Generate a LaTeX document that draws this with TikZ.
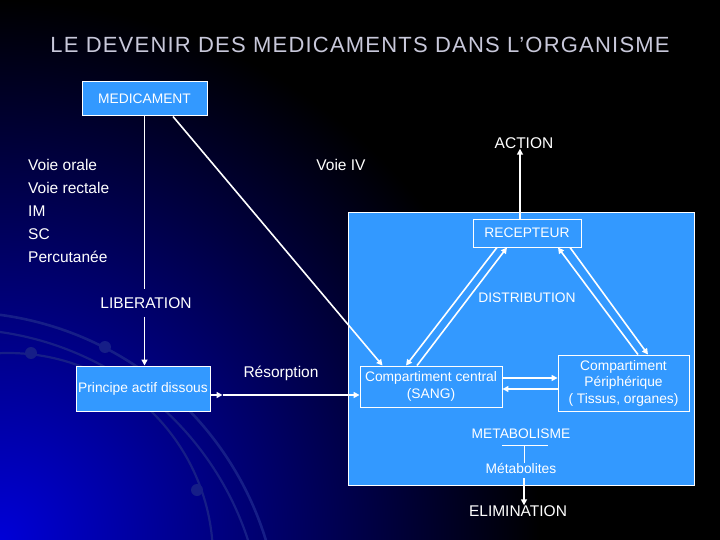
\documentclass[tikz,border=0pt]{standalone}
\usepackage{fontspec}
\setmainfont{Liberation Sans}
\usetikzlibrary{arrows.meta}
\definecolor{boxblue}{RGB}{51,153,255}
\definecolor{arcblue}{RGB}{22,30,135}
\definecolor{titlegray}{RGB}{200,200,218}
\begin{document}
\begin{tikzpicture}[x=1pt,y=-1pt,
  every node/.style={text=white,inner sep=0pt},
  bluebox/.style={draw=white,line width=1pt,fill=boxblue,align=center},
  outbox/.style={draw=white,line width=0.9pt,align=center},
  conn/.style={draw=white,line width=1.6pt},
  arr/.style={conn,-{Triangle[width=6pt,length=6pt]}},
  small/.style={font=\fontsize{13.8}{16.5}\selectfont},
  mid/.style={font=\fontsize{15.5}{18}\selectfont}]
\useasboundingbox (0,0) rectangle (720,540);
\fill[black] (0,0) rectangle (720,540);
\begin{scope}
\clip (0,0) rectangle (720,540);
\shade[inner color={rgb,255:red,0;green,0;blue,215}, outer color=black] (0,540) circle (540);
\draw[arcblue,line width=2.6pt] (-43,635) circle (323);
\draw[arcblue,line width=2.2pt] (-43,635) circle (306);
\draw[arcblue,line width=2.2pt] (8,558) circle (205);
\foreach \p in {(31,353),(105,347),(197,490)}{\fill[arcblue] \p circle (6);}
\end{scope}
% title
\node[text=titlegray,font=\fontsize{22}{26}\selectfont\addfontfeature{LetterSpace=5.5}] (title) at (360,45) {LE DEVENIR DES MEDICAMENTS DANS L’ORGANISME};
% big rectangle
\node[bluebox,minimum width=346pt,minimum height=272pt] (big) at (521,349) {};
% nodes
\node[bluebox,small,minimum width=125pt,minimum height=34pt] (med) at (144.5,99) {MEDICAMENT};
\node[font=\fontsize{15.5}{23}\selectfont,align=left,anchor=west] (routes) at (28,211) {Voie orale\\Voie rectale\\IM\\SC\\Percutanée};
\node[mid] (iv) at (341,165) {Voie IV};
\node[mid] (action) at (524,143) {ACTION};
\node[outbox,small,minimum width=108pt,minimum height=28pt] (rec) at (527,233) {RECEPTEUR};
\node[small] (distr) at (527,298) {DISTRIBUTION};
\node[mid] (lib) at (146,303) {LIBERATION};
\node[bluebox,small,minimum width=134pt,minimum height=45pt] (pad) at (143,388.5) {Principe actif dissous};
\node[mid] (res) at (281,373) {Résorption};
\node[outbox,small,minimum width=142pt,minimum height=41pt] (cc) at (431,386.5) {Compartiment central\\(SANG)};
\node[outbox,small,minimum width=131pt,minimum height=56pt] (per) at (623.5,383) {Compartiment\\Périphérique\\( Tissus, organes)};
\node[small] (meta) at (521,434) {METABOLISME};
\node[small] (metab) at (521,468) {Métabolites};
\node[mid] (elim) at (518,511) {ELIMINATION};
% connectors
\draw[conn] (med.south) -- ([yshift=8pt]med.south |- lib.north);
\coordinate (l1) at ([yshift=-8pt]lib.south -| med.south);
\draw[arr] (l1) -- (l1 |- pad.north);
\draw[arr] ([xshift=28.5pt]med.south) -- ([xshift=23pt]cc.north west);
\coordinate (r1) at ([yshift=-6.5pt]pad.east);
\coordinate (r2) at ([xshift=12pt]r1);
\draw[arr] (r1) -- (r2);
\draw[arr] (r2) -- (r1 -| cc.west);
\draw[arr] ([xshift=-7pt]rec.north) -- ([xshift=-4pt]action.south);
\draw[arr] ([xshift=-30pt]rec.south) -- ([xshift=-25pt]cc.north);
\draw[arr] ([xshift=-14pt]cc.north) -- ([xshift=-20pt]rec.south);
\draw[arr] ([xshift=14.5pt]per.north) -- ([xshift=31pt]rec.south);
\draw[arr] ([xshift=43pt]rec.south) -- ([xshift=24.5pt]per.north);
\coordinate (h1) at ([yshift=8.5pt]cc.east);
\coordinate (h2) at ([yshift=-2.5pt]cc.east);
\draw[arr] (h1) -- (h1 -| per.west);
\draw[arr] (h2 -| per.west) -- (h2);
\coordinate (m1) at (502,445);
\coordinate (m2) at (548,445);
\coordinate (m3) at (524,445);
\draw[white,line width=1pt] (m1) -- (m2) (m3) -- (m3 |- metab.north);
\coordinate (e1) at ([yshift=-5pt]metab.south -| m3);
\draw[arr] (e1) -- (e1 |- elim.north);
\end{tikzpicture}
\end{document}
